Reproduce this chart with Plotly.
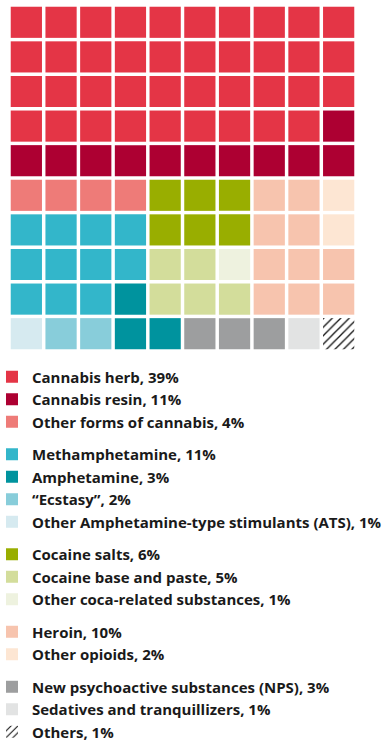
import plotly.graph_objects as go

# ---- data ----
categories = [
    "Cannabis herb", "Cannabis resin", "Other forms of cannabis",
    "Methamphetamine", "Amphetamine", "\u201cEcstasy\u201d",
    "Other Amphetamine-type stimulants (ATS)",
    "Cocaine salts", "Cocaine base and paste", "Other coca-related substances",
    "Heroin", "Other opioids",
    "New psychoactive substances (NPS)", "Sedatives and tranquillizers", "Others",
]
shares = [39, 11, 4, 11, 3, 2, 1, 6, 5, 1, 10, 2, 3, 1, 1]
codes = ["h", "r", "c", "m", "a", "e", "t", "s", "b", "k", "o", "p", "n", "d", "x"]
groups = ["cannabis", "cannabis", "cannabis",
          "ats", "ats", "ats", "ats",
          "coca", "coca", "coca",
          "opioids", "opioids",
          "other", "other", "other"]
colors = ["#E43546", "#AD0032", "#EE7B78",
          "#33B6CA", "#00939E", "#88CDDA", "#D6EAF0",
          "#99AE00", "#D3DD9B", "#EEF2DF",
          "#F7C4AE", "#FDE6D3",
          "#9D9E9F", "#E2E3E3", "#FFFFFF"]

# waffle arrangement (one code per cell, rows top to bottom)
waffle_rows = [
    "hhhhhhhhhh",
    "hhhhhhhhhh",
    "hhhhhhhhhh",
    "hhhhhhhhhr",
    "rrrrrrrrrr",
    "ccccsssoop",
    "mmmmsssoop",
    "mmmmbbkooo",
    "mmmabbbooo",
    "teeaannndx",
]

fig = go.Figure()
cell = 0.9
for name, share, code, grp, col in zip(categories, shares, codes, groups, colors):
    xs, bases = [], []
    for r, row in enumerate(waffle_rows):
        for c, ch in enumerate(row):
            if ch == code:
                xs.append(c)
                bases.append(r + (1 - cell) / 2)
    marker = dict(color=col, line=dict(width=0))
    if code == "x":
        marker["pattern"] = dict(shape="/", fgcolor="#111111", bgcolor="#FFFFFF",
                                 size=6, solidity=0.22, fillmode="replace")
    fig.add_trace(go.Bar(
        x=xs, y=[cell] * len(xs), base=bases, width=cell,
        marker=marker, name=f"{name}, {share}%",
        legendgroup=grp, hoverinfo="name",
    ))

fig.update_layout(
    width=392, height=747,
    margin=dict(l=9, r=36, t=5, b=396, autoexpand=False),
    paper_bgcolor="white", plot_bgcolor="white",
    barmode="overlay",
    showlegend=True,
    legend=dict(
        x=-0.049, y=-0.0275, xanchor="left", yanchor="top",
        font=dict(family="Open Sans", size=15, color="#1a1a1a", weight="bold"),
        tracegroupgap=10, traceorder="grouped",
        bgcolor="rgba(0,0,0,0)", borderwidth=0, maxheight=1,
    ),
    xaxis=dict(range=[-0.5, 9.5], visible=False, fixedrange=True),
    yaxis=dict(range=[10, 0], visible=False, fixedrange=True),
)

fig.write_html(
    "out.html",
    config={"displayModeBar": False},
    post_script="document.body.style.margin='0';document.body.style.overflow='hidden';",
)
